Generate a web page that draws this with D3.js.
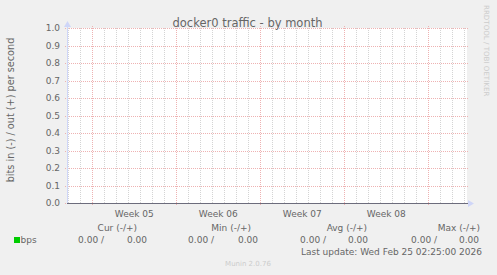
<!DOCTYPE html>
<html>
<head>
<meta charset="utf-8">
<script src="https://cdn.jsdelivr.net/npm/d3@7"></script>
<style>
  body { margin: 0; background: #f0f0f0; }
  svg { display: block; font-family: "DejaVu Sans", sans-serif; }
</style>
</head>
<body>
<svg width="497" height="275"></svg>
<script>
// time window of the month graph (munin: 400 px * 7200 s)
const timeStart = new Date("2026-01-23T21:25:00Z");
const timeEnd = new Date(timeStart.getTime() + 400 * 7200 * 1000);

const weekStarts = ["2026-01-26", "2026-02-02", "2026-02-09", "2026-02-16", "2026-02-23"];
const weekLabels = ["Week 05", "Week 06", "Week 07", "Week 08"];
const yTicks = [0, 0.1, 0.2, 0.3, 0.4, 0.5, 0.6, 0.7, 0.8, 0.9, 1.0];

// series: bps in (-) / out (+), flat at zero
const seriesTimes = [timeStart, timeEnd];
const bpsIn = [0, 0];
const bpsOut = [0, 0];

const legendHeaders = ["Cur (-/+)", "Min (-/+)", "Avg (-/+)", "Max (-/+)"];
const legendIn = [0, 0, 0, 0];
const legendOut = [0, 0, 0, 0];

const svg = d3.select("svg");
const margin = {left: 67, right: 30, top: 28, bottom: 72};
const W = 497, H = 275;

const x = d3.scaleUtc().domain([timeStart, timeEnd]).range([margin.left, W - margin.right]);
const y = d3.scaleLinear().domain([0, 1]).range([H - margin.bottom, margin.top]);

const textCol = "#666";

// canvas
svg.append("rect")
    .attr("x", x.range()[0]).attr("y", y.range()[1])
    .attr("width", x.range()[1] - x.range()[0])
    .attr("height", y.range()[0] - y.range()[1])
    .attr("fill", "#fff");

// minor vertical grid (days)
svg.append("g").selectAll("line")
    .data(d3.utcDay.range(d3.utcDay.ceil(timeStart), timeEnd))
    .join("line")
    .attr("x1", d => Math.round(x(d)) + 0.5).attr("x2", d => Math.round(x(d)) + 0.5)
    .attr("y1", y(1)).attr("y2", y(0) + 1)
    .attr("stroke", "#d4d4d4").attr("stroke-dasharray", "1,1");

// major vertical grid (weeks)
svg.append("g").selectAll("line")
    .data(weekStarts.map(d => new Date(d + "T00:00:00Z")))
    .join("line")
    .attr("x1", d => Math.round(x(d)) + 0.5).attr("x2", d => Math.round(x(d)) + 0.5)
    .attr("y1", y(1) - 2).attr("y2", y(0) + 3)
    .attr("stroke", "#eeb2b2").attr("stroke-dasharray", "1,1");

// major horizontal grid
svg.append("g").selectAll("line")
    .data(yTicks)
    .join("line")
    .attr("x1", x.range()[0] - 2).attr("x2", x.range()[1] + 2)
    .attr("y1", d => Math.round(y(d)) + 0.5).attr("y2", d => Math.round(y(d)) + 0.5)
    .attr("stroke", "#eeb2b2").attr("stroke-dasharray", "1,1");

// data lines (zero), drawn below the axis
const line = d3.line().x((d, i) => x(seriesTimes[i])).y(d => Math.round(y(d)) + 0.5);
svg.append("path").datum(bpsIn.map(v => -v)).attr("d", line)
    .attr("fill", "none").attr("stroke", "#00cc00");
svg.append("path").datum(bpsOut).attr("d", line)
    .attr("fill", "none").attr("stroke", "#00cc00");

// axes
const x0 = Math.round(x.range()[0]) + 0.5, y0 = Math.round(y(0)) + 0.5;
svg.append("line").attr("x1", x0).attr("x2", x0).attr("y1", y(0)).attr("y2", y(1) - 2)
    .attr("stroke", "#cfd6f8");
svg.append("line").attr("x1", x.range()[0]).attr("x2", x.range()[1] + 1).attr("y1", y0).attr("y2", y0)
    .attr("stroke", "#6c6c7c");
svg.append("path")
    .attr("d", `M${x.range()[1] + 1},${y0 - 3.5}L${x.range()[1] + 7},${y0}L${x.range()[1] + 1},${y0 + 3.5}Z`)
    .attr("fill", "#cfd6f8");
svg.append("path")
    .attr("d", `M${x0 - 3.5},${y(1) - 1}L${x0},${y(1) - 7}L${x0 + 3.5},${y(1) - 1}Z`)
    .attr("fill", "#cfd6f8");

// y tick labels
const yAxis = svg.append("g")
    .attr("transform", `translate(${x.range()[0] - 7},0)`)
    .call(d3.axisLeft(y).tickValues(yTicks).tickFormat(d3.format(".1f")).tickSize(0).tickPadding(0));
yAxis.select(".domain").remove();
yAxis.selectAll("text").attr("fill", textCol).style("font-size", "9px")
    .style("font-family", "DejaVu Sans");

// week labels, centred in each week
svg.append("g").selectAll("text")
    .data(weekLabels)
    .join("text")
    .attr("x", (d, i) => (x(new Date(weekStarts[i] + "T00:00:00Z")) + x(new Date(weekStarts[i + 1] + "T00:00:00Z"))) / 2)
    .attr("y", 216.5)
    .attr("text-anchor", "middle")
    .attr("font-size", 9).attr("fill", textCol)
    .text(d => d);

// title
svg.append("text").attr("x", 247.5).attr("y", 26.5).attr("text-anchor", "middle")
    .attr("font-size", 11.5).attr("fill", textCol).text("docker0 traffic - by month");

// y label
svg.append("text").attr("transform", "translate(14,110) rotate(-90)")
    .attr("text-anchor", "middle").attr("font-size", 9.7).attr("fill", textCol)
    .text("bits in (-) / out (+) per second");

// watermark
svg.append("text").attr("transform", "translate(483.5,5) rotate(90)")
    .attr("font-size", 7.1).attr("fill", "#cccccc").text("RRDTOOL / TOBI OETIKER");

// legend
const headerRight = [137, 251, 367, 480];
const inRight = [104, 214, 326, 437];
const outRight = [147, 258, 368, 479];
const fmt = d3.format(".2f");

svg.append("g").selectAll("text").data(legendHeaders).join("text")
    .attr("x", (d, i) => headerRight[i]).attr("y", 230.5)
    .attr("text-anchor", "end").attr("font-size", 9).attr("fill", textCol)
    .text(d => d);

svg.append("rect").attr("x", 14).attr("y", 237).attr("width", 6).attr("height", 6).attr("fill", "#00cc00");
svg.append("text").attr("x", 20.5).attr("y", 242.5).attr("font-size", 9).attr("fill", textCol).text("bps");

svg.append("g").selectAll("text").data(legendIn).join("text")
    .attr("x", (d, i) => inRight[i]).attr("y", 242.5)
    .attr("text-anchor", "end").attr("font-size", 9).attr("fill", textCol)
    .text(d => fmt(d) + " /");
svg.append("g").selectAll("text").data(legendOut).join("text")
    .attr("x", (d, i) => outRight[i]).attr("y", 242.5)
    .attr("text-anchor", "end").attr("font-size", 9).attr("fill", textCol)
    .text(d => fmt(d));

svg.append("text").attr("x", 482).attr("y", 255).attr("text-anchor", "end")
    .attr("font-size", 9).attr("fill", textCol).text("Last update: Wed Feb 25 02:25:00 2026");

svg.append("text").attr("x", 248).attr("y", 265.7).attr("text-anchor", "middle")
    .attr("font-size", 7).attr("fill", "#cccccc").text("Munin 2.0.76");
</script>
</body>
</html>
